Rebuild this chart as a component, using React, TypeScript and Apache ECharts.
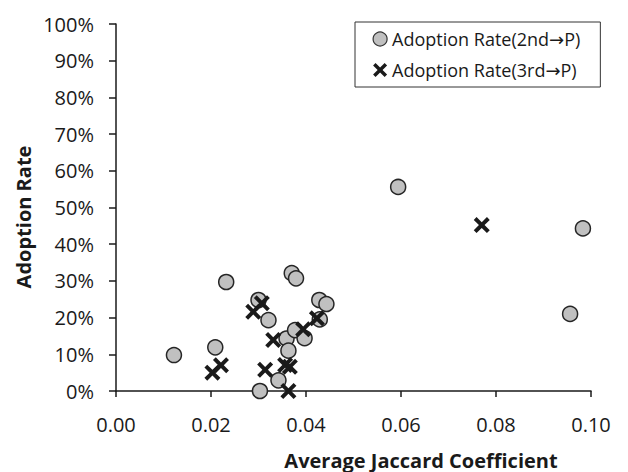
import React, { useEffect, useRef } from "react";
import * as echarts from "echarts";

const xTicks = [0, 0.02, 0.04, 0.06, 0.08, 0.1];
const yTicks = [0, 0.1, 0.2, 0.3, 0.4, 0.5, 0.6, 0.7, 0.8, 0.9, 1.0];

const series2ndName = "Adoption Rate(2nd\u2192P)";
const series3rdName = "Adoption Rate(3rd\u2192P)";

// Adoption Rate (2nd -> P): [Average Jaccard Coefficient, adoption rate]
const jaccard2nd = [0.0122, 0.0209, 0.0232, 0.0300, 0.0321, 0.0303, 0.0342, 0.0359, 0.0363, 0.0370, 0.0379, 0.0377, 0.0397, 0.0428, 0.0443, 0.0429, 0.0594, 0.0983, 0.0956];
const rate2nd = [0.098, 0.119, 0.297, 0.248, 0.193, 0.0, 0.029, 0.143, 0.110, 0.321, 0.307, 0.166, 0.144, 0.248, 0.237, 0.195, 0.556, 0.443, 0.210];

// Adoption Rate (3rd -> P)
const jaccard3rd = [0.0203, 0.0221, 0.0289, 0.0307, 0.0331, 0.0314, 0.0356, 0.0366, 0.0363, 0.0394, 0.0423, 0.0770];
const rate3rd = [0.050, 0.070, 0.216, 0.239, 0.139, 0.058, 0.071, 0.066, 0.0, 0.168, 0.198, 0.452];

const crossPath =
  "path://M0,2.8 L2.8,0 L8,5.2 L13.2,0 L16,2.8 L10.8,8 L16,13.2 L13.2,16 L8,10.8 L2.8,16 L0,13.2 L5.2,8 Z";

const FONT = "'Open Sans', sans-serif";

export default function App() {
  const ref = useRef<HTMLDivElement>(null);

  useEffect(() => {
    document.body.style.margin = "0";
    if (!ref.current) return;
    const chart = echarts.init(ref.current, null, { renderer: "svg" });
    const d2 = jaccard2nd.map((x, i) => [x, rate2nd[i]]);
    const d3 = jaccard3rd.map((x, i) => [x, rate3rd[i]]);
    chart.setOption({
      animation: false,
      backgroundColor: "#ffffff",
      textStyle: { fontFamily: FONT },
      grid: { left: 116, right: 37, top: 24, bottom: 81 },
      xAxis: {
        type: "value",
        min: xTicks[0],
        max: xTicks[xTicks.length - 1],
        interval: 0.02,
        splitLine: { show: false },
        axisLine: { show: true, lineStyle: { color: "#1a1a1a", width: 1.5 } },
        axisTick: { show: true, length: 6, lineStyle: { color: "#1a1a1a", width: 1.5 } },
        axisLabel: {
          margin: 23,
          fontSize: 20,
          color: "#1a1a1a",
          fontFamily: FONT,
          formatter: (v: number) => v.toFixed(2),
        },
      },
      yAxis: {
        type: "value",
        min: yTicks[0],
        max: yTicks[yTicks.length - 1],
        interval: 0.1,
        splitLine: { show: false },
        axisLine: { show: true, lineStyle: { color: "#1a1a1a", width: 1.5 } },
        axisTick: { show: true, length: 7, lineStyle: { color: "#1a1a1a", width: 1.5 } },
        axisLabel: {
          margin: 22,
          fontSize: 20,
          color: "#1a1a1a",
          fontFamily: FONT,
          formatter: (v: number) => Math.round(v * 100) + "%",
        },
      },
      legend: {
        orient: "vertical",
        left: 355,
        top: 22,
        padding: [8, 20, 8, 17.5],
        itemGap: 13,
        itemWidth: 14,
        itemHeight: 14,
        borderColor: "#333333",
        borderWidth: 1,
        formatter: (name: string) => {
          const parts = name.split("\u2192");
          return "{a|" + parts[0] + "}{b|\u2192}{a|" + parts[1] + "}";
        },
        textStyle: {
          fontSize: 18,
          color: "#1a1a1a",
          fontFamily: FONT,
          rich: {
            a: { fontSize: 18, color: "#1a1a1a", fontFamily: FONT },
            b: { fontSize: 18, color: "#1a1a1a", fontFamily: "'DejaVu Sans', sans-serif" },
          },
        },
        data: [
          { name: series2ndName, icon: "circle", itemStyle: { color: "#c0c0c0", borderColor: "#333", borderWidth: 1.2 } },
          { name: series3rdName, icon: crossPath, itemStyle: { color: "#1a1a1a" } },
        ],
      },
      graphic: [
        {
          type: "text",
          x: 421,
          y: 460,
          style: {
            text: "Average Jaccard Coefficient",
            fontSize: 20,
            fontWeight: "bold",
            fontFamily: FONT,
            fill: "#1a1a1a",
            textAlign: "center",
            textVerticalAlign: "middle",
          },
        },
        {
          type: "text",
          x: 23,
          y: 217,
          rotation: Math.PI / 2,
          style: {
            text: "Adoption Rate",
            fontSize: 20,
            fontWeight: "bold",
            fontFamily: FONT,
            fill: "#1a1a1a",
            textAlign: "center",
            textVerticalAlign: "middle",
          },
        },
      ],
      series: [
        {
          name: series2ndName,
          type: "scatter",
          data: d2,
          symbol: "circle",
          symbolSize: 15,
          itemStyle: { color: "#c0c0c0", borderColor: "#262626", borderWidth: 1.5, opacity: 1 },
        },
        {
          name: series3rdName,
          type: "scatter",
          data: d3,
          symbol: crossPath,
          symbolSize: 16,
          itemStyle: { color: "#1a1a1a", opacity: 1 },
        },
      ],
    });
    return () => chart.dispose();
  }, []);

  return <div ref={ref} style={{ width: 628, height: 472 }} />;
}
